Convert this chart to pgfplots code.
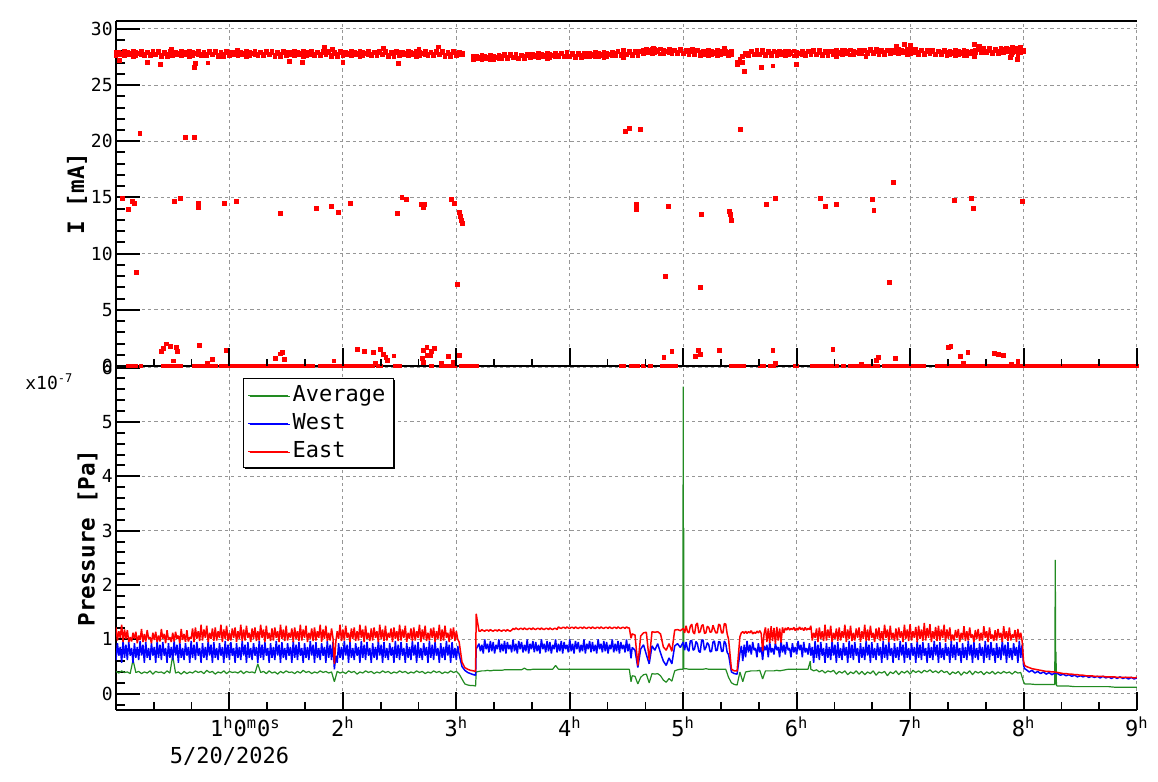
\documentclass[border=0pt]{standalone}
\usepackage{fontspec}
\setmainfont{DejaVu Sans Mono}
\usepackage{pgfplots}
\pgfplotsset{compat=1.18}
\usepackage{pgfplotstable}
\usetikzlibrary{shadows}
\definecolor{rgreen}{RGB}{34,139,34}
\definecolor{gridgray}{RGB}{150,150,150}
\newcommand{\su}[1]{\textsuperscript{#1}}

% Average pressure (units of 1e-7 Pa)
\pgfplotstableread{
t A
0.000 0.41
0.025 0.38
0.050 0.42
0.075 0.39
0.100 0.40
0.125 0.37
0.150 0.62
0.175 0.39
0.200 0.41
0.225 0.37
0.250 0.40
0.275 0.38
0.300 0.42
0.325 0.36
0.350 0.41
0.375 0.39
0.400 0.40
0.425 0.37
0.450 0.42
0.475 0.38
0.500 0.70
0.525 0.38
0.550 0.40
0.575 0.36
0.600 0.41
0.625 0.37
0.650 0.40
0.675 0.38
0.700 0.42
0.725 0.39
0.750 0.41
0.775 0.37
0.800 0.43
0.825 0.39
0.850 0.41
0.875 0.36
0.900 0.40
0.925 0.38
0.950 0.42
0.975 0.37
1.000 0.41
1.025 0.39
1.050 0.40
1.075 0.38
1.100 0.42
1.125 0.37
1.150 0.41
1.175 0.39
1.200 0.40
1.225 0.38
1.250 0.55
1.275 0.39
1.300 0.41
1.325 0.37
1.350 0.42
1.375 0.38
1.400 0.40
1.425 0.36
1.450 0.41
1.475 0.38
1.500 0.42
1.525 0.39
1.550 0.40
1.575 0.37
1.600 0.41
1.625 0.38
1.650 0.43
1.675 0.39
1.700 0.41
1.725 0.37
1.750 0.40
1.775 0.38
1.800 0.42
1.825 0.39
1.850 0.41
1.875 0.38
1.900 0.40
1.925 0.22
1.950 0.41
1.975 0.38
2.000 0.40
2.025 0.37
2.050 0.42
2.075 0.39
2.100 0.41
2.125 0.36
2.150 0.40
2.175 0.38
2.200 0.42
2.225 0.39
2.250 0.41
2.275 0.37
2.300 0.40
2.325 0.38
2.350 0.42
2.375 0.39
2.400 0.41
2.425 0.37
2.450 0.40
2.475 0.38
2.500 0.42
2.525 0.39
2.550 0.41
2.575 0.37
2.600 0.40
2.625 0.38
2.650 0.42
2.675 0.39
2.700 0.41
2.725 0.37
2.750 0.40
2.775 0.38
2.800 0.42
2.825 0.39
2.850 0.41
2.875 0.37
2.900 0.40
2.925 0.38
2.950 0.42
2.975 0.39
3.000 0.41
3.025 0.36
3.050 0.27
3.075 0.18
3.100 0.16
3.125 0.15
3.150 0.15
3.170 0.14
3.175 0.40
3.200 0.41
3.225 0.42
3.250 0.42
3.275 0.43
3.300 0.42
3.325 0.43
3.350 0.43
3.375 0.43
3.400 0.43
3.425 0.44
3.450 0.44
3.475 0.44
3.500 0.44
3.525 0.44
3.550 0.44
3.575 0.44
3.600 0.47
3.625 0.44
3.650 0.44
3.675 0.45
3.700 0.45
3.725 0.45
3.750 0.45
3.775 0.45
3.800 0.45
3.825 0.45
3.850 0.45
3.875 0.52
3.900 0.45
3.950 0.45
4.000 0.45
4.050 0.45
4.100 0.45
4.150 0.45
4.200 0.45
4.250 0.45
4.300 0.45
4.350 0.45
4.400 0.45
4.450 0.45
4.500 0.45
4.525 0.45
4.540 0.22
4.550 0.33
4.575 0.32
4.600 0.18
4.625 0.30
4.650 0.35
4.675 0.36
4.700 0.20
4.725 0.37
4.750 0.36
4.775 0.37
4.800 0.33
4.825 0.25
4.850 0.21
4.875 0.28
4.900 0.23
4.925 0.42
4.950 0.44
4.975 0.45
4.997 0.45
5.000 5.65
5.002 0.46
5.004 3.05
5.006 0.46
5.025 0.46
5.050 0.45
5.075 0.45
5.100 0.45
5.125 0.45
5.150 0.45
5.175 0.45
5.200 0.46
5.225 0.45
5.250 0.45
5.275 0.45
5.300 0.45
5.325 0.45
5.350 0.45
5.375 0.45
5.400 0.30
5.425 0.20
5.450 0.17
5.475 0.16
5.500 0.40
5.525 0.22
5.550 0.40
5.575 0.41
5.600 0.42
5.625 0.42
5.650 0.42
5.675 0.43
5.700 0.27
5.725 0.42
5.750 0.42
5.775 0.42
5.800 0.42
5.825 0.43
5.850 0.42
5.875 0.43
5.900 0.44
5.925 0.45
5.950 0.45
5.975 0.45
6.000 0.45
6.025 0.45
6.050 0.45
6.075 0.45
6.100 0.45
6.120 0.60
6.125 0.45
6.150 0.42
6.175 0.44
6.200 0.40
6.225 0.43
6.250 0.38
6.275 0.42
6.300 0.40
6.325 0.43
6.350 0.36
6.375 0.41
6.400 0.38
6.425 0.42
6.450 0.35
6.475 0.40
6.500 0.37
6.525 0.42
6.550 0.36
6.575 0.41
6.600 0.35
6.625 0.40
6.650 0.37
6.675 0.42
6.700 0.34
6.725 0.40
6.750 0.38
6.775 0.41
6.800 0.33
6.825 0.40
6.850 0.37
6.875 0.42
6.900 0.35
6.925 0.41
6.950 0.38
6.975 0.42
7.000 0.36
7.025 0.43
7.050 0.39
7.075 0.42
7.100 0.38
7.125 0.43
7.150 0.40
7.175 0.44
7.200 0.39
7.225 0.42
7.250 0.38
7.275 0.43
7.300 0.39
7.325 0.41
7.350 0.35
7.375 0.40
7.400 0.37
7.425 0.41
7.450 0.34
7.475 0.40
7.500 0.37
7.525 0.42
7.550 0.35
7.575 0.41
7.600 0.38
7.625 0.41
7.650 0.35
7.675 0.40
7.700 0.37
7.725 0.41
7.750 0.36
7.775 0.40
7.800 0.37
7.825 0.41
7.850 0.38
7.875 0.40
7.900 0.36
7.925 0.41
7.950 0.38
7.975 0.39
8.000 0.22
8.010 0.18
8.050 0.18
8.100 0.17
8.150 0.17
8.200 0.17
8.250 0.17
8.275 0.17
8.280 2.46
8.283 0.17
8.286 0.77
8.290 0.15
8.300 0.14
8.350 0.14
8.400 0.14
8.450 0.13
8.500 0.13
8.550 0.13
8.600 0.13
8.650 0.13
8.700 0.13
8.750 0.13
8.800 0.12
8.850 0.12
8.900 0.12
8.950 0.12
9.000 0.12
}\avg

% East and West pressure (units of 1e-7 Pa)
\pgfplotstableread{
t E W
0.0000 1.22 0.62
0.0125 0.98 0.93
0.0250 1.15 0.70
0.0375 1.03 0.86
0.0500 1.27 0.57
0.0625 0.95 0.97
0.0750 1.18 0.66
0.0875 1.01 0.90
0.1000 1.17 0.62
0.1125 0.95 0.95
0.1250 1.04 0.70
0.1375 0.96 0.84
0.1500 1.12 0.57
0.1625 1.01 0.93
0.1750 1.14 0.66
0.1875 0.93 0.86
0.2000 1.07 0.62
0.2125 0.99 0.97
0.2250 1.19 0.70
0.2375 0.95 0.90
0.2500 1.10 0.57
0.2625 0.96 0.95
0.2750 1.17 0.66
0.2875 1.01 0.84
0.3000 1.04 0.62
0.3125 0.93 0.93
0.3250 1.12 0.70
0.3375 0.99 0.86
0.3500 1.14 0.57
0.3625 0.95 0.97
0.3750 1.07 0.66
0.3875 0.96 0.90
0.4000 1.19 0.62
0.4125 1.01 0.95
0.4250 1.10 0.70
0.4375 0.93 0.84
0.4500 1.17 0.57
0.4625 0.99 0.93
0.4750 1.04 0.66
0.4875 0.95 0.86
0.5000 1.12 0.62
0.5125 0.96 0.97
0.5250 1.14 0.70
0.5375 1.01 0.90
0.5500 1.07 0.57
0.5625 0.93 0.95
0.5750 1.19 0.66
0.5875 0.99 0.84
0.6000 1.10 0.62
0.6125 0.95 0.93
0.6250 1.17 0.70
0.6375 0.96 0.86
0.6500 1.04 0.57
0.6625 1.01 0.97
0.6750 1.20 0.66
0.6875 0.95 0.90
0.7000 1.22 0.62
0.7125 1.01 0.95
0.7250 1.15 0.70
0.7375 0.97 0.84
0.7500 1.27 0.57
0.7625 0.98 0.93
0.7750 1.18 0.66
0.7875 1.03 0.86
0.8000 1.25 0.62
0.8125 0.95 0.97
0.8250 1.12 0.70
0.8375 1.01 0.90
0.8500 1.20 0.57
0.8625 0.97 0.95
0.8750 1.22 0.66
0.8875 0.98 0.84
0.9000 1.15 0.62
0.9125 1.03 0.93
0.9250 1.27 0.70
0.9375 0.95 0.86
0.9500 1.18 0.57
0.9625 1.01 0.97
0.9750 1.25 0.66
0.9875 0.97 0.90
1.0000 1.12 0.62
1.0125 0.98 0.95
1.0250 1.20 0.70
1.0375 1.03 0.84
1.0500 1.22 0.57
1.0625 0.95 0.93
1.0750 1.15 0.66
1.0875 1.01 0.86
1.1000 1.27 0.62
1.1125 0.97 0.97
1.1250 1.18 0.70
1.1375 0.98 0.90
1.1500 1.25 0.57
1.1625 1.03 0.95
1.1750 1.12 0.66
1.1875 0.95 0.84
1.2000 1.20 0.62
1.2125 1.01 0.93
1.2250 1.22 0.70
1.2375 0.97 0.86
1.2500 1.15 0.57
1.2625 0.98 0.97
1.2750 1.27 0.66
1.2875 1.03 0.90
1.3000 1.18 0.62
1.3125 0.95 0.95
1.3250 1.25 0.70
1.3375 1.01 0.84
1.3500 1.12 0.57
1.3625 0.97 0.93
1.3750 1.20 0.66
1.3875 0.98 0.86
1.4000 1.22 0.62
1.4125 1.03 0.97
1.4250 1.15 0.70
1.4375 0.95 0.90
1.4500 1.27 0.57
1.4625 1.01 0.95
1.4750 1.18 0.66
1.4875 0.97 0.84
1.5000 1.25 0.62
1.5125 0.98 0.93
1.5250 1.12 0.70
1.5375 1.03 0.86
1.5500 1.20 0.57
1.5625 0.95 0.97
1.5750 1.22 0.66
1.5875 1.01 0.90
1.6000 1.15 0.62
1.6125 0.97 0.95
1.6250 1.27 0.70
1.6375 0.98 0.84
1.6500 1.18 0.57
1.6625 1.03 0.93
1.6750 1.25 0.66
1.6875 0.95 0.86
1.7000 1.12 0.62
1.7125 1.01 0.97
1.7250 1.20 0.70
1.7375 0.97 0.90
1.7500 1.22 0.57
1.7625 0.98 0.95
1.7750 1.15 0.66
1.7875 1.03 0.84
1.8000 1.27 0.62
1.8125 0.95 0.93
1.8250 1.18 0.70
1.8375 1.01 0.86
1.8500 1.25 0.57
1.8625 0.97 0.97
1.8750 1.12 0.66
1.8875 0.98 0.90
1.9000 1.20 0.62
1.9125 1.03 0.95
1.9250 0.55 0.45
1.9375 0.95 0.70
1.9500 1.15 0.57
1.9625 1.01 0.93
1.9750 1.27 0.66
1.9875 0.97 0.86
2.0000 1.18 0.62
2.0125 0.98 0.97
2.0250 1.25 0.70
2.0375 1.03 0.90
2.0500 1.12 0.57
2.0625 0.95 0.95
2.0750 1.20 0.66
2.0875 1.01 0.84
2.1000 1.22 0.62
2.1125 0.97 0.93
2.1250 1.15 0.70
2.1375 0.98 0.86
2.1500 1.27 0.57
2.1625 1.03 0.97
2.1750 1.18 0.66
2.1875 0.95 0.90
2.2000 1.25 0.62
2.2125 1.01 0.95
2.2250 1.12 0.70
2.2375 0.97 0.84
2.2500 1.20 0.57
2.2625 0.98 0.93
2.2750 1.22 0.66
2.2875 1.03 0.86
2.3000 1.15 0.62
2.3125 0.95 0.97
2.3250 1.27 0.70
2.3375 1.01 0.90
2.3500 1.18 0.57
2.3625 0.97 0.95
2.3750 1.25 0.66
2.3875 0.98 0.84
2.4000 1.12 0.62
2.4125 1.03 0.93
2.4250 1.20 0.70
2.4375 0.95 0.86
2.4500 1.22 0.57
2.4625 1.01 0.97
2.4750 1.15 0.66
2.4875 0.97 0.90
2.5000 1.27 0.62
2.5125 0.98 0.95
2.5250 1.18 0.70
2.5375 1.03 0.84
2.5500 1.25 0.57
2.5625 0.95 0.93
2.5750 1.12 0.66
2.5875 1.01 0.86
2.6000 1.20 0.62
2.6125 0.97 0.97
2.6250 1.22 0.70
2.6375 0.98 0.90
2.6500 1.15 0.57
2.6625 1.03 0.95
2.6750 1.27 0.66
2.6875 0.95 0.84
2.7000 1.18 0.62
2.7125 1.01 0.93
2.7250 1.25 0.70
2.7375 0.97 0.86
2.7500 1.12 0.57
2.7625 0.98 0.97
2.7750 1.20 0.66
2.7875 1.03 0.90
2.8000 1.22 0.62
2.8125 0.95 0.95
2.8250 1.15 0.70
2.8375 1.01 0.84
2.8500 1.27 0.57
2.8625 0.97 0.93
2.8750 1.18 0.66
2.8875 0.98 0.86
2.9000 1.25 0.62
2.9125 1.03 0.97
2.9250 1.12 0.70
2.9375 0.95 0.90
2.9500 1.20 0.57
2.9625 1.01 0.95
2.9750 1.22 0.66
2.9875 0.97 0.84
3.0000 1.15 0.62
3.0125 1.00 0.88
3.0250 0.95 0.72
3.0500 0.58 0.50
3.0750 0.48 0.43
3.1000 0.45 0.39
3.1250 0.43 0.37
3.1500 0.42 0.35
3.1700 0.41 0.34
3.1750 1.47 0.82
3.2000 1.15 0.92
3.2125 1.15 0.78
3.2250 1.18 0.90
3.2375 1.16 0.74
3.2500 1.15 1.00
3.2625 1.17 0.82
3.2750 1.17 0.92
3.2875 1.15 0.76
3.3000 1.18 0.97
3.3125 1.16 0.78
3.3250 1.15 0.95
3.3375 1.17 0.74
3.3500 1.17 0.90
3.3625 1.15 0.82
3.3750 1.18 1.00
3.3875 1.16 0.76
3.4000 1.15 0.92
3.4125 1.17 0.78
3.4250 1.17 0.97
3.4375 1.15 0.74
3.4500 1.18 0.95
3.4625 1.16 0.82
3.4750 1.15 0.90
3.4875 1.17 0.76
3.5000 1.20 1.00
3.5125 1.18 0.78
3.5250 1.21 0.92
3.5375 1.19 0.74
3.5500 1.18 0.97
3.5625 1.20 0.82
3.5750 1.20 0.95
3.5875 1.18 0.76
3.6000 1.21 0.90
3.6125 1.19 0.78
3.6250 1.18 1.00
3.6375 1.20 0.74
3.6500 1.20 0.92
3.6625 1.18 0.82
3.6750 1.21 0.97
3.6875 1.19 0.76
3.7000 1.18 0.95
3.7125 1.20 0.78
3.7250 1.20 0.90
3.7375 1.18 0.74
3.7500 1.21 1.00
3.7625 1.19 0.82
3.7750 1.18 0.92
3.7875 1.20 0.76
3.8000 1.20 0.97
3.8125 1.18 0.78
3.8250 1.21 0.95
3.8375 1.19 0.74
3.8500 1.18 0.90
3.8625 1.20 0.82
3.8750 1.20 1.00
3.8875 1.18 0.76
3.9000 1.23 0.92
3.9125 1.21 0.78
3.9250 1.20 0.97
3.9375 1.22 0.74
3.9500 1.22 0.95
3.9625 1.20 0.82
3.9750 1.23 0.90
3.9875 1.21 0.76
4.0000 1.20 1.00
4.0125 1.22 0.78
4.0250 1.22 0.92
4.0375 1.20 0.74
4.0500 1.23 0.97
4.0625 1.21 0.82
4.0750 1.20 0.95
4.0875 1.22 0.76
4.1000 1.22 0.90
4.1125 1.20 0.78
4.1250 1.23 1.00
4.1375 1.21 0.74
4.1500 1.20 0.92
4.1625 1.22 0.82
4.1750 1.22 0.97
4.1875 1.20 0.76
4.2000 1.23 0.95
4.2125 1.21 0.78
4.2250 1.20 0.90
4.2375 1.22 0.74
4.2500 1.22 1.00
4.2625 1.20 0.82
4.2750 1.23 0.92
4.2875 1.21 0.76
4.3000 1.20 0.97
4.3125 1.22 0.78
4.3250 1.22 0.95
4.3375 1.20 0.74
4.3500 1.23 0.90
4.3625 1.21 0.82
4.3750 1.20 1.00
4.3875 1.22 0.76
4.4000 1.22 0.92
4.4125 1.20 0.78
4.4250 1.23 0.97
4.4375 1.21 0.74
4.4500 1.20 0.95
4.4625 1.22 0.82
4.4750 1.22 0.90
4.4875 1.20 0.76
4.5000 1.23 1.00
4.5125 1.21 0.78
4.5250 1.21 0.92
4.5400 1.02 0.65
4.5500 1.10 0.85
4.5750 1.08 0.80
4.6000 0.52 0.48
4.6250 1.06 0.82
4.6500 1.12 0.90
4.6750 1.13 0.72
4.7000 0.62 0.55
4.7250 1.14 0.88
4.7500 1.13 0.80
4.7750 1.14 0.92
4.8000 1.10 0.75
4.8250 0.86 0.60
4.8500 0.80 0.52
4.8750 0.92 0.66
4.9000 0.78 0.55
4.9250 1.17 0.88
4.9500 1.18 0.92
4.9750 1.16 0.85
5.0000 1.20 0.95
5.0125 1.12 0.80
5.0250 1.25 0.95
5.0375 1.14 0.82
5.0500 1.12 0.78
5.0625 1.24 0.97
5.0750 1.28 0.98
5.0875 1.13 0.80
5.1000 1.10 0.82
5.1125 1.27 0.96
5.1250 1.30 0.92
5.1375 1.12 0.78
5.1500 1.14 0.76
5.1625 1.25 0.98
5.1750 1.27 0.99
5.1875 1.11 0.80
5.2000 1.12 0.85
5.2125 1.24 0.94
5.2250 1.22 0.90
5.2375 1.13 0.77
5.2500 1.14 0.78
5.2625 1.26 0.95
5.2750 1.18 0.97
5.2875 1.12 0.79
5.3000 1.12 0.80
5.3125 1.28 0.96
5.3250 1.26 0.95
5.3375 1.12 0.78
5.3500 1.12 0.78
5.3625 1.29 0.97
5.3750 1.28 0.92
5.3875 1.10 0.76
5.4000 1.00 0.72
5.4250 0.45 0.40
5.4500 0.42 0.37
5.4750 0.42 0.36
5.5000 1.05 0.75
5.5125 1.12 0.88
5.5250 1.14 0.60
5.5375 1.11 0.90
5.5500 1.15 0.67
5.5625 1.11 0.97
5.5750 1.14 0.76
5.5875 1.12 0.90
5.6000 1.16 0.72
5.6125 1.10 0.95
5.6250 1.13 0.80
5.6375 1.11 0.84
5.6500 1.15 0.67
5.6625 1.12 0.93
5.6750 1.16 0.76
5.6875 1.11 0.86
5.7000 0.78 0.62
5.7125 1.10 0.88
5.7250 1.22 0.80
5.7375 0.95 0.90
5.7500 1.20 0.67
5.7625 0.93 0.95
5.7750 1.24 0.76
5.7875 0.97 0.84
5.8000 1.21 0.72
5.8125 0.92 0.93
5.8250 1.23 0.80
5.8375 0.98 0.86
5.8500 1.20 0.67
5.8625 0.94 0.97
5.8750 1.22 0.76
5.8875 1.12 0.90
5.9000 1.21 0.72
5.9125 1.17 0.95
5.9250 1.22 0.80
5.9375 1.17 0.84
5.9500 1.20 0.67
5.9625 1.18 0.93
5.9750 1.22 0.76
5.9875 1.16 0.86
6.0000 1.21 0.72
6.0125 1.17 0.97
6.0250 1.23 0.80
6.0375 1.18 0.90
6.0500 1.21 0.67
6.0625 1.16 0.95
6.0750 1.22 0.76
6.0875 1.17 0.84
6.1000 1.20 0.72
6.1125 1.18 0.93
6.1250 1.25 0.70
6.1375 0.98 0.86
6.1500 1.12 0.57
6.1625 1.03 0.97
6.1750 1.20 0.66
6.1875 0.95 0.90
6.2000 1.22 0.62
6.2125 1.01 0.95
6.2250 1.15 0.70
6.2375 0.97 0.84
6.2500 1.27 0.57
6.2625 0.98 0.93
6.2750 1.18 0.66
6.2875 1.03 0.86
6.3000 1.25 0.62
6.3125 0.95 0.97
6.3250 1.12 0.70
6.3375 1.01 0.90
6.3500 1.20 0.57
6.3625 0.97 0.95
6.3750 1.22 0.66
6.3875 0.98 0.84
6.4000 1.15 0.62
6.4125 1.03 0.93
6.4250 1.27 0.70
6.4375 0.95 0.86
6.4500 1.18 0.57
6.4625 1.01 0.97
6.4750 1.25 0.66
6.4875 0.97 0.90
6.5000 1.12 0.62
6.5125 0.98 0.95
6.5250 1.20 0.70
6.5375 1.03 0.84
6.5500 1.22 0.57
6.5625 0.95 0.93
6.5750 1.15 0.66
6.5875 1.01 0.86
6.6000 1.27 0.62
6.6125 0.97 0.97
6.6250 1.18 0.70
6.6375 0.98 0.90
6.6500 1.25 0.57
6.6625 1.03 0.95
6.6750 1.12 0.66
6.6875 0.95 0.84
6.7000 1.20 0.62
6.7125 1.01 0.93
6.7250 1.22 0.70
6.7375 0.97 0.86
6.7500 1.15 0.57
6.7625 0.98 0.97
6.7750 1.27 0.66
6.7875 1.03 0.90
6.8000 1.18 0.62
6.8125 0.95 0.95
6.8250 1.25 0.70
6.8375 1.01 0.84
6.8500 1.12 0.57
6.8625 0.97 0.93
6.8750 1.20 0.66
6.8875 0.98 0.86
6.9000 1.22 0.62
6.9125 1.03 0.97
6.9250 1.15 0.70
6.9375 0.95 0.90
6.9500 1.27 0.57
6.9625 1.01 0.95
6.9750 1.18 0.66
6.9875 0.97 0.84
7.0000 1.28 0.62
7.0125 0.98 0.93
7.0250 1.15 0.70
7.0375 1.03 0.86
7.0500 1.23 0.57
7.0625 0.95 0.97
7.0750 1.25 0.66
7.0875 1.01 0.90
7.1000 1.18 0.62
7.1125 0.97 0.95
7.1250 1.30 0.70
7.1375 0.98 0.84
7.1500 1.21 0.57
7.1625 1.03 0.93
7.1750 1.28 0.66
7.1875 0.95 0.86
7.2000 1.15 0.62
7.2125 1.01 0.97
7.2250 1.23 0.70
7.2375 0.97 0.90
7.2500 1.25 0.57
7.2625 0.98 0.95
7.2750 1.18 0.66
7.2875 1.03 0.84
7.3000 1.27 0.62
7.3125 0.95 0.93
7.3250 1.18 0.70
7.3375 1.01 0.86
7.3500 1.22 0.57
7.3625 0.97 0.97
7.3750 1.09 0.66
7.3875 0.98 0.90
7.4000 1.17 0.62
7.4125 1.03 0.95
7.4250 1.19 0.70
7.4375 0.95 0.84
7.4500 1.12 0.57
7.4625 1.01 0.93
7.4750 1.24 0.66
7.4875 0.97 0.86
7.5000 1.15 0.62
7.5125 0.98 0.97
7.5250 1.22 0.70
7.5375 1.03 0.90
7.5500 1.09 0.57
7.5625 0.95 0.95
7.5750 1.17 0.66
7.5875 1.01 0.84
7.6000 1.19 0.62
7.6125 0.97 0.93
7.6250 1.12 0.70
7.6375 0.98 0.86
7.6500 1.24 0.57
7.6625 1.03 0.97
7.6750 1.15 0.66
7.6875 0.95 0.90
7.7000 1.22 0.62
7.7125 1.01 0.95
7.7250 1.09 0.70
7.7375 0.97 0.84
7.7500 1.17 0.57
7.7625 0.98 0.93
7.7750 1.19 0.66
7.7875 1.03 0.86
7.8000 1.12 0.62
7.8125 0.95 0.97
7.8250 1.24 0.70
7.8375 1.01 0.90
7.8500 1.15 0.57
7.8625 0.97 0.95
7.8750 1.22 0.66
7.8875 0.98 0.84
7.9000 1.09 0.62
7.9125 1.03 0.93
7.9250 1.17 0.70
7.9375 0.95 0.86
7.9500 1.19 0.57
7.9625 1.01 0.97
7.9750 1.12 0.66
7.9875 0.97 0.90
8.0000 0.60 0.52
8.0100 0.52 0.46
8.025 0.50 0.44
8.050 0.48 0.40
8.075 0.46 0.43
8.100 0.45 0.38
8.125 0.44 0.41
8.150 0.43 0.37
8.175 0.42 0.40
8.200 0.41 0.36
8.225 0.41 0.39
8.250 0.40 0.35
8.275 0.40 0.38
8.300 0.39 0.37
8.325 0.38 0.34
8.350 0.37 0.36
8.375 0.37 0.33
8.400 0.36 0.35
8.425 0.36 0.32
8.450 0.35 0.34
8.475 0.35 0.31
8.500 0.34 0.33
8.525 0.34 0.31
8.550 0.33 0.33
8.575 0.33 0.30
8.600 0.33 0.32
8.625 0.32 0.30
8.650 0.32 0.32
8.675 0.32 0.29
8.700 0.32 0.32
8.725 0.31 0.29
8.750 0.31 0.31
8.775 0.31 0.28
8.800 0.31 0.31
8.825 0.30 0.28
8.850 0.30 0.31
8.875 0.30 0.28
8.900 0.30 0.30
8.925 0.30 0.27
8.950 0.30 0.30
8.975 0.29 0.27
9.000 0.30 0.29
}\ew

% Current I [mA]: main band, two readings per time step
\pgfplotstableread{
t I J
0.000 27.90 27.62
0.025 27.68 27.95
0.050 27.85 27.72
0.075 27.60 28.00
0.100 27.95 27.68
0.125 27.75 27.86
0.150 28.02 27.58
0.175 27.65 27.92
0.200 27.82 27.78
0.225 27.72 27.98
0.250 27.78 27.62
0.275 27.92 27.95
0.300 27.62 27.72
0.325 27.88 28.00
0.350 27.70 27.68
0.375 27.98 27.86
0.400 27.66 27.58
0.425 27.84 27.92
0.450 27.58 27.78
0.475 27.90 27.98
0.500 27.90 27.62
0.525 27.68 27.95
0.550 27.85 27.72
0.575 27.60 28.00
0.600 27.95 27.68
0.625 27.75 27.86
0.650 28.02 27.58
0.675 27.65 27.92
0.700 27.82 27.78
0.725 27.72 27.98
0.750 27.78 27.62
0.775 27.92 27.95
0.800 27.62 27.72
0.825 27.88 28.00
0.850 27.70 27.68
0.875 27.98 27.86
0.900 27.66 27.58
0.925 27.84 27.92
0.950 27.58 27.78
0.975 27.90 27.98
1.000 27.90 27.62
1.025 27.68 27.95
1.050 27.85 27.72
1.075 27.60 28.00
1.100 27.95 27.68
1.125 27.75 27.86
1.150 28.02 27.58
1.175 27.65 27.92
1.200 27.82 27.78
1.225 27.72 27.98
1.250 27.78 27.62
1.275 27.92 27.95
1.300 27.62 27.72
1.325 27.88 28.00
1.350 27.70 27.68
1.375 27.98 27.86
1.400 27.66 27.58
1.425 27.84 27.92
1.450 27.58 27.78
1.475 27.90 27.98
1.500 27.90 27.62
1.525 27.68 27.95
1.550 27.85 27.72
1.575 27.60 28.00
1.600 27.95 27.68
1.625 27.75 27.86
1.650 28.02 27.58
1.675 27.65 27.92
1.700 27.82 27.78
1.725 27.72 27.98
1.750 27.78 27.62
1.775 27.92 27.95
1.800 27.62 27.72
1.825 27.88 28.00
1.850 27.70 27.68
1.875 27.98 27.86
1.900 27.66 27.58
1.925 27.84 27.92
1.950 27.58 27.78
1.975 27.90 27.98
2.000 27.90 27.62
2.025 27.68 27.95
2.050 27.85 27.72
2.075 27.60 28.00
2.100 27.95 27.68
2.125 27.75 27.86
2.150 28.02 27.58
2.175 27.65 27.92
2.200 27.82 27.78
2.225 27.72 27.98
2.250 27.78 27.62
2.275 27.92 27.95
2.300 27.62 27.72
2.325 27.88 28.00
2.350 27.70 27.68
2.375 27.98 27.86
2.400 27.66 27.58
2.425 27.84 27.92
2.450 27.58 27.78
2.475 27.90 27.98
2.500 27.90 27.62
2.525 27.68 27.95
2.550 27.85 27.72
2.575 27.60 28.00
2.600 27.95 27.68
2.625 27.75 27.86
2.650 28.02 27.58
2.675 27.65 27.92
2.700 27.82 27.78
2.725 27.72 27.98
2.750 27.78 27.62
2.775 27.92 27.95
2.800 27.62 27.72
2.825 27.88 28.00
2.850 27.70 27.68
2.875 27.98 27.86
2.900 27.66 27.58
2.925 27.84 27.92
2.950 27.58 27.78
2.975 27.90 27.98
3.000 27.85 27.62
3.025 27.70 27.95
3.050 27.80 27.72
3.150 27.55 27.27
3.175 27.33 27.60
3.200 27.50 27.37
3.225 27.25 27.65
3.250 27.60 27.33
3.275 27.40 27.51
3.300 27.67 27.23
3.325 27.30 27.57
3.350 27.47 27.43
3.375 27.37 27.63
3.400 27.53 27.37
3.425 27.67 27.70
3.450 27.37 27.47
3.475 27.63 27.75
3.500 27.45 27.43
3.525 27.73 27.61
3.550 27.41 27.33
3.575 27.59 27.67
3.600 27.33 27.53
3.625 27.65 27.73
3.650 27.72 27.44
3.675 27.50 27.77
3.700 27.67 27.54
3.725 27.42 27.82
3.750 27.77 27.50
3.775 27.57 27.68
3.800 27.84 27.40
3.825 27.47 27.74
3.850 27.64 27.60
3.875 27.54 27.80
3.900 27.66 27.50
3.925 27.80 27.83
3.950 27.50 27.60
3.975 27.76 27.88
4.000 27.58 27.56
4.025 27.86 27.74
4.050 27.54 27.46
4.075 27.72 27.80
4.100 27.46 27.66
4.125 27.78 27.86
4.150 27.80 27.52
4.175 27.58 27.85
4.200 27.75 27.62
4.225 27.50 27.90
4.250 27.85 27.58
4.275 27.65 27.76
4.300 27.92 27.48
4.325 27.55 27.82
4.350 27.72 27.68
4.375 27.62 27.88
4.400 27.83 27.67
4.425 27.97 28.00
4.450 27.67 27.77
4.475 27.93 28.05
4.500 27.75 27.73
4.525 28.03 27.91
4.550 27.71 27.63
4.575 27.89 27.97
4.600 27.63 27.83
4.625 27.95 28.03
4.650 28.10 27.82
4.675 27.88 28.15
4.700 28.05 27.92
4.725 27.80 28.20
4.750 28.15 27.88
4.775 27.95 28.06
4.800 28.22 27.78
4.825 27.85 28.12
4.850 28.02 27.98
4.875 27.92 28.18
4.900 27.93 27.77
4.925 28.07 28.10
4.950 27.77 27.87
4.975 28.03 28.15
5.000 27.85 27.83
5.025 28.13 28.01
5.050 27.81 27.73
5.075 27.99 28.07
5.100 27.73 27.93
5.125 28.05 28.13
5.150 27.95 27.67
5.175 27.73 28.00
5.200 27.90 27.77
5.225 27.65 28.05
5.250 28.00 27.73
5.275 27.80 27.91
5.300 28.07 27.63
5.325 27.70 27.97
5.350 27.87 27.83
5.375 27.77 28.03
5.400 27.90 27.67
5.425 27.75 28.00
5.475 27.00 26.80
5.500 27.30 27.10
5.525 27.50 27.60
5.550 27.70 27.80
5.575 27.85 27.67
5.600 27.99 28.00
5.625 27.69 27.77
5.650 27.95 28.05
5.675 27.77 27.73
5.700 28.05 27.91
5.725 27.73 27.63
5.750 27.91 27.97
5.775 27.65 27.83
5.800 27.97 28.03
5.825 27.92 27.64
5.850 27.70 27.97
5.875 27.87 27.74
5.900 27.62 28.02
5.925 27.97 27.70
5.950 27.77 27.88
5.975 28.04 27.60
6.000 27.67 27.94
6.025 27.84 27.80
6.050 27.74 28.00
6.075 27.85 27.67
6.100 27.99 28.00
6.125 27.69 27.77
6.150 27.95 28.05
6.175 27.77 27.73
6.200 28.05 27.91
6.225 27.73 27.63
6.250 27.91 27.97
6.275 27.65 27.83
6.300 27.97 28.03
6.325 28.00 27.72
6.350 27.78 28.05
6.375 27.95 27.82
6.400 27.70 28.10
6.425 28.05 27.78
6.450 27.85 27.96
6.475 28.12 27.68
6.500 27.75 28.02
6.525 27.92 27.88
6.550 27.82 28.08
6.575 27.95 27.77
6.600 28.09 28.10
6.625 27.79 27.87
6.650 28.05 28.15
6.675 27.87 27.83
6.700 28.15 28.01
6.725 27.83 27.73
6.750 28.01 28.07
6.775 27.75 27.93
6.800 28.07 28.13
6.825 28.08 27.80
6.850 27.86 28.13
6.875 28.03 27.90
6.900 27.78 28.18
6.925 28.13 27.86
6.950 27.93 28.04
6.975 28.20 27.76
7.000 27.83 28.10
7.025 28.00 27.96
7.050 27.90 28.16
7.075 27.90 27.72
7.100 28.04 28.05
7.125 27.74 27.82
7.150 28.00 28.10
7.175 27.82 27.78
7.200 28.10 27.96
7.225 27.78 27.68
7.250 27.96 28.02
7.275 27.70 27.88
7.300 28.02 28.08
7.325 27.95 27.67
7.350 27.73 28.00
7.375 27.90 27.77
7.400 27.65 28.05
7.425 28.00 27.73
7.450 27.80 27.91
7.475 28.07 27.63
7.500 27.70 27.97
7.525 27.87 27.83
7.550 27.77 28.03
7.575 28.05 27.87
7.600 28.19 28.20
7.625 27.89 27.97
7.650 28.15 28.25
7.675 27.97 27.93
7.700 28.25 28.11
7.725 27.93 27.83
7.750 28.11 28.17
7.775 27.85 28.03
7.800 28.17 28.23
7.825 28.22 27.94
7.850 28.00 28.27
7.875 28.17 28.04
7.900 27.92 28.32
7.925 28.27 28.00
7.950 28.07 28.18
7.975 28.34 27.90
8.000 28.10 28.00
}\band

% Current I [mA]: scattered readings
\pgfplotstableread{
t I
0.03 27.2
0.28 27.0
0.39 26.85
0.49 28.2
0.69 26.6
0.70 26.95
0.81 26.97
1.07 28.1
1.53 27.1
1.64 27.03
1.84 28.37
1.91 28.2
2.00 27.03
2.36 28.28
2.49 26.95
2.67 28.2
2.84 28.4
4.47 27.47
4.74 28.28
5.08 28.2
5.36 28.28
5.52 27.0
5.54 26.24
5.69 26.6
5.79 26.7
6.00 26.86
6.35 27.52
6.61 27.52
6.88 28.46
6.95 28.64
7.00 28.55
7.50 27.6
7.57 28.64
7.57 27.52
7.61 28.46
7.886 27.48
7.89 27.7
7.948 27.3
7.95 27.52
0.21 20.7
0.61 20.36
0.69 20.36
0.056 14.93
0.108 13.95
0.144 14.66
0.161 14.48
0.179 8.34
0.514 14.66
0.567 14.93
0.726 14.48
0.726 14.12
0.955 14.48
1.061 14.66
1.449 13.59
1.766 14.04
1.898 14.22
1.96 13.68
2.066 14.48
2.48 13.59
2.52 15.0
2.56 14.8
2.69 14.4
2.71 14.1
2.72 14.4
2.957 14.8
2.983 14.48
3.027 13.68
3.036 13.32
3.045 12.97
3.054 12.7
3.01 7.27
4.49 20.9
4.527 21.16
4.62 21.07
5.505 21.07
4.588 14.4
4.588 13.95
4.87 14.22
4.845 7.98
5.16 13.5
5.15 7.0
5.408 13.77
5.414 13.5
5.42 13.2
5.425 12.97
5.734 14.4
5.813 14.93
6.21 14.93
6.255 14.22
6.35 14.4
6.67 14.84
6.68 13.86
6.855 16.35
6.82 7.45
7.39 14.75
7.54 14.93
7.56 14.04
7.99 14.66
0.403 1.27
0.417 1.57
0.447 1.96
0.482 1.72
0.534 1.66
0.54 1.3
0.503 0.45
0.735 1.84
0.85 0.6
0.805 0.25
0.976 1.42
1.405 0.68
1.449 1.07
1.467 1.22
1.484 0.6
1.92 0.45
2.13 1.48
2.19 1.3
2.27 1.2
2.29 0.2
2.33 1.48
2.36 1.0
2.38 0.75
2.39 0.5
2.45 0.9
2.70 0.68
2.71 0.33
2.71 1.4
2.74 1.66
2.74 0.95
2.77 0.95
2.78 1.3
2.81 1.57
2.87 0.27
2.93 0.86
2.97 0.33
3.03 0.95
4.83 0.77
4.90 1.3
5.11 0.86
5.135 1.4
5.15 1.04
5.32 1.4
5.79 1.4
5.81 0.24
6.32 1.48
6.57 0.15
6.70 0.5
6.72 0.77
6.87 0.68
7.34 1.66
7.36 1.75
7.44 0.86
7.47 0.24
7.51 1.22
7.74 1.13
7.78 1.04
7.82 0.95
7.95 0.42
7.89 0.15
}\sparse

% Current I [mA]: zero readings
\pgfplotstableread{
t I
0.11 0
0.12 0
0.13 0
0.14 0
0.15 0
0.17 0
0.22 0
0.42 0
0.43 0
0.45 0
0.48 0
0.50 0
0.51 0
0.54 0
0.55 0
0.57 0
0.69 0
0.71 0
0.72 0
0.74 0
0.76 0
0.78 0
0.80 0
0.82 0
0.84 0
0.86 0
0.88 0
0.93 0
0.95 0
0.97 0
1.00 0
1.04 0
1.06 0
1.09 0
1.12 0
1.14 0
1.17 0
1.20 0
1.22 0
1.24 0
1.27 0
1.29 0
1.31 0
1.33 0
1.36 0
1.38 0
1.40 0
1.43 0
1.45 0
1.47 0
1.49 0
1.51 0
1.54 0
1.57 0
1.59 0
1.61 0
1.63 0
1.65 0
1.67 0
1.69 0
1.71 0
1.73 0
1.80 0
1.82 0
1.84 0
1.87 0
1.89 0
1.92 0
1.95 0
1.97 0
1.99 0
2.03 0
2.05 0
2.08 0
2.11 0
2.14 0
2.17 0
2.19 0
2.21 0
2.24 0
2.26 0
2.31 0
2.33 0
2.46 0
2.48 0
2.50 0
2.78 0
2.87 0
2.89 0
2.92 0
2.96 0
2.98 0
3.04 0
3.06 0
3.08 0
3.10 0
3.12 0
3.14 0
3.16 0
3.18 0
4.45 0
4.47 0
4.54 0
4.56 0
4.58 0
4.60 0
4.65 0
4.71 0
4.82 0
4.84 0
4.86 0
4.88 0
4.90 0
4.93 0
5.42 0
5.44 0
5.46 0
5.48 0
5.50 0
5.53 0
5.68 0
5.71 0
5.77 0
5.80 0
5.99 0
6.00 0
6.14 0
6.16 0
6.18 0
6.22 0
6.25 0
6.28 0
6.30 0
6.32 0
6.35 0
6.41 0
6.47 0
6.49 0
6.51 0
6.53 0
6.55 0
6.57 0
6.59 0
6.61 0
6.63 0
6.66 0
6.68 0
6.71 0
6.77 0
6.79 0
6.81 0
6.83 0
6.86 0
6.88 0
6.90 0
6.92 0
6.94 0
6.96 0
6.98 0
7.00 0
7.04 0
7.08 0
7.12 0
7.24 0
7.28 0
7.30 0
7.32 0
7.34 0
7.36 0
7.38 0
7.41 0
7.43 0
7.45 0
7.47 0
7.49 0
7.51 0
7.53 0
7.55 0
7.57 0
7.59 0
7.61 0
7.63 0
7.65 0
7.67 0
7.69 0
7.71 0
7.73 0
7.75 0
7.77 0
7.79 0
7.82 0
7.85 0
7.87 0
7.89 0
7.91 0
7.93 0
7.95 0
7.97 0
7.99 0
8.000 0
8.025 0
8.050 0
8.075 0
8.100 0
8.125 0
8.150 0
8.175 0
8.200 0
8.225 0
8.250 0
8.275 0
8.300 0
8.325 0
8.350 0
8.375 0
8.400 0
8.425 0
8.450 0
8.475 0
8.500 0
8.525 0
8.550 0
8.575 0
8.600 0
8.625 0
8.650 0
8.675 0
8.700 0
8.725 0
8.750 0
8.775 0
8.800 0
8.825 0
8.850 0
8.875 0
8.900 0
8.925 0
8.950 0
8.975 0
9.000 0
}\zeros

\pgfplotsset{
  every non boxed x axis/.style={},
  every non boxed y axis/.style={},
  mainax/.style={
    scale only axis, width=510.5pt, xmin=0, xmax=9,
    axis x line=box, axis y line=left,
    axis line style={line width=1pt, black},
    tick align=inside,
    xtick={1,...,9}, xticklabels={},
    xtick style={draw=none},
    major tick length=12pt, minor tick length=4.5pt,
    every major tick/.append style={line width=1pt, black},
    every minor tick/.append style={line width=1pt, black},
    grid=major,
    major grid style={gridgray, dash pattern=on 1.6pt off 1.6pt, line width=0.5pt},
    /pgf/number format/assume math mode=true,
    yticklabel style={font=\fontsize{9}{10}\selectfont, inner xsep=1.5pt},
    ylabel style={font=\fontsize{11.3}{13}\selectfont\bfseries, anchor=center},
  },
  xtax/.style={
    scale only axis, width=510.5pt, xmin=0, xmax=9, ymin=0, ymax=1,
    axis x line=bottom, axis y line=none,
    x axis line style={draw=none},
    ytick=\empty, tick align=inside,
    xtick={0,...,9}, minor x tick num=2,
    major tick length=9pt, minor tick length=4pt,
    every major tick/.append style={line width=1pt, black},
    every minor tick/.append style={line width=0.8pt, black},
  }
}

\begin{document}
\begin{tikzpicture}
% ---------------- bottom pad: pressure ----------------
\begin{axis}[mainax, name=bot,
  at={(0pt,0pt)}, anchor=south west, height=172pt,
  ymin=-0.3, ymax=6.03,
  ytick={0,...,6}, minor ytick={-0.2,0,...,6},
  ylabel={Pressure [Pa]},
  ylabel style={at={(axis description cs:-0.0279,0.5)}},
  legend style={at={(rel axis cs:0.1244,0.965)}, anchor=north west,
    draw=black, line width=0.6pt, fill=white,
    font=\fontsize{11}{13}\selectfont,
    inner xsep=2pt, inner ysep=1.5pt, row sep=0.5pt,
    drop shadow={shadow xshift=0.8pt, shadow yshift=-0.8pt, opacity=1, fill=black}},
  legend cell align=left,
  legend image code/.code={\draw[#1] (0pt,0pt) -- (20pt,0pt);},
  legend image post style={line width=0.5pt},
]
\addplot[rgreen, line width=0.6pt, line join=bevel] table[x=t, y=A] {\avg};
\addplot[blue, line width=0.75pt, line join=bevel] table[x=t, y=W] {\ew};
\addplot[red, line width=0.75pt, line join=bevel] table[x=t, y=E] {\ew};
\legend{Average, West, East}
\end{axis}
\begin{axis}[xtax, at={(0pt,0pt)}, anchor=south west, height=172pt,
  xticklabel style={align=center, font=\fontsize{11}{13.5}\selectfont},
  xticklabels={{}, {\hspace*{16pt}1\su{h}0\su{m}0\su{s}\\5/20/2026}, {2\su{h}}, {3\su{h}}, {4\su{h}}, {5\su{h}}, {6\su{h}}, {7\su{h}}, {8\su{h}}, {9\su{h}}},
]
\end{axis}
\node[anchor=base west, font=\fontsize{9}{10}\selectfont, inner sep=0pt] at ([xshift=-45.5pt,yshift=-12pt]bot.north west) {x10\su{-7}};
% ---------------- top pad: current ----------------
\begin{axis}[mainax, name=top,
  at={(0pt,172pt)}, anchor=south west, height=172.5pt,
  ymin=0, ymax=30.7,
  ytick={0,5,...,30}, minor ytick={0,1,...,30},
  ylabel={I [mA]},
  ylabel style={at={(axis description cs:-0.0382,0.5)}},
]
\addplot[only marks, mark=square*, mark size=0.95pt, red] table[x=t, y=I] {\band};
\addplot[only marks, mark=square*, mark size=0.95pt, red] table[x=t, y=J] {\band};
\addplot[only marks, mark=square*, mark size=0.95pt, red] table[x=t, y=I] {\sparse};
\addplot[only marks, mark=square*, mark size=0.95pt, red] table[x=t, y=I] {\zeros};
\end{axis}
\begin{axis}[xtax, at={(0pt,172pt)}, anchor=south west, height=172.5pt,
  xticklabels={}, major tick length=8.8pt, minor tick length=3.5pt]
\end{axis}
\pgfresetboundingbox
\path[use as bounding box] (-58pt,-36pt) rectangle (521pt,355pt);
\end{tikzpicture}
\end{document}
